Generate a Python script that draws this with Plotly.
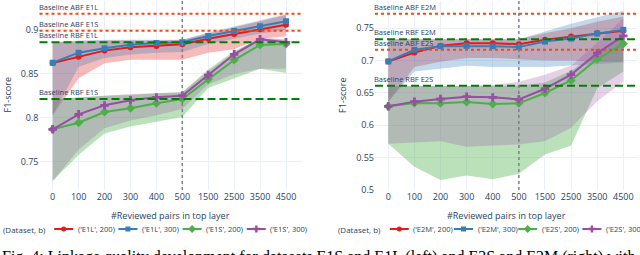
import plotly.graph_objects as go

W, H = 640, 255

reviewed = ["0", "100", "200", "300", "400", "500", "1500", "2500", "3500", "4500"]

# ---- left panel: E1L / E1S ----
e1l_200 = [0.8625, 0.8696, 0.8765, 0.8803, 0.8818, 0.8837, 0.8901, 0.8954, 0.9008, 0.9060]
e1l_300 = [0.8628, 0.8742, 0.8791, 0.8833, 0.8852, 0.8860, 0.8932, 0.8989, 0.9042, 0.9099]
e1s_200 = [0.7869, 0.7944, 0.8066, 0.8108, 0.8165, 0.8214, 0.8438, 0.8658, 0.8829, 0.8840]
e1s_300 = [0.7869, 0.8040, 0.8142, 0.8200, 0.8233, 0.8252, 0.8487, 0.8723, 0.8894, 0.8860]

e1l_200_lo = [0.803, 0.845, 0.862, 0.866, 0.866, 0.866, 0.874, 0.878, 0.890, 0.893]
e1l_200_hi = [0.886, 0.887, 0.888, 0.888, 0.888, 0.889, 0.896, 0.903, 0.910, 0.917]
e1l_300_lo = [0.803, 0.858, 0.868, 0.872, 0.874, 0.875, 0.884, 0.890, 0.896, 0.900]
e1l_300_hi = [0.886, 0.888, 0.889, 0.889, 0.889, 0.889, 0.897, 0.904, 0.911, 0.918]
e1s_200_lo = [0.728, 0.758, 0.782, 0.790, 0.7956, 0.801, 0.834, 0.845, 0.856, 0.851]
e1s_200_hi = [0.821, 0.823, 0.825, 0.826, 0.828, 0.829, 0.855, 0.876, 0.890, 0.889]
e1s_300_lo = [0.728, 0.764, 0.788, 0.797, 0.803, 0.810, 0.838, 0.850, 0.856, 0.856]
e1s_300_hi = [0.821, 0.823, 0.825, 0.827, 0.828, 0.829, 0.853, 0.874, 0.892, 0.889]

left_baselines = [("Baseline ABF E1L", 0.9186, "abf"), ("Baseline ABF E1S", 0.8992, "abf"),
                  ("Baseline RBF E1L", 0.8860, "rbf"), ("Baseline RBF E1S", 0.8214, "rbf")]

# ---- right panel: E2M / E2S ----
e2m_200 = [0.6985, 0.7124, 0.7227, 0.7268, 0.7268, 0.7253, 0.7320, 0.7370, 0.7420, 0.7460]
e2m_300 = [0.6985, 0.7165, 0.7222, 0.7227, 0.7222, 0.7207, 0.7293, 0.7340, 0.7417, 0.7474]
e2s_200 = [0.6290, 0.6342, 0.6337, 0.6358, 0.6327, 0.6337, 0.6497, 0.6692, 0.7022, 0.7258]
e2s_300 = [0.6290, 0.6363, 0.6404, 0.6440, 0.6429, 0.6398, 0.6563, 0.6780, 0.7114, 0.7381]

e2m_200_lo = [0.636, 0.690, 0.698, 0.704, 0.704, 0.702, 0.700, 0.700, 0.698, 0.698]
e2m_200_hi = [0.733, 0.733, 0.733, 0.733, 0.733, 0.733, 0.742, 0.750, 0.760, 0.768]
e2m_300_lo = [0.636, 0.683, 0.688, 0.692, 0.690, 0.690, 0.690, 0.693, 0.695, 0.697]
e2m_300_hi = [0.733, 0.733, 0.733, 0.733, 0.733, 0.733, 0.745, 0.757, 0.767, 0.777]
e2s_200_lo = [0.571, 0.5355, 0.5148, 0.522, 0.516, 0.5247, 0.5545, 0.5684, 0.657, 0.683]
e2s_200_hi = [0.660, 0.660, 0.660, 0.660, 0.660, 0.661, 0.666, 0.684, 0.712, 0.736]
e2s_300_lo = [0.571, 0.5725, 0.575, 0.5664, 0.5684, 0.570, 0.575, 0.5957, 0.637, 0.6676]
e2s_300_hi = [0.660, 0.660, 0.660, 0.661, 0.662, 0.667, 0.678, 0.692, 0.728, 0.765]

right_baselines = [("Baseline ABF E2M", 0.7725, "abf"), ("Baseline RBF E2M", 0.7330, "rbf"),
                   ("Baseline ABF E2S", 0.7165, "abf"), ("Baseline RBF E2S", 0.6610, "rbf")]

caption = "Fig. 4: Linkage quality development for datasets E1S and E1L (left) and E2S and E2M (right) with"

# ---- styles ----
COLORS = ["#e41a1c", "#377eb8", "#4daf4a", "#984ea3"]
BAND_ALPHA = [0.30, 0.30, 0.38, 0.26]
SYMBOLS = ["circle", "square", "diamond", "cross"]
MSIZE = [6, 6, 7, 7]
FONT = "Open Sans"
TXT = "#2a3f5f"


def rgba(hexc, a):
    h = hexc.lstrip("#")
    return "rgba(%d,%d,%d,%.2f)" % (int(h[0:2], 16), int(h[2:4], 16), int(h[4:6], 16), a)


panels = [
    dict(xa="x", ya="y", dom=(39.5, 302.0), c0=52.7, c9=286.0, yr=(0.7178, 0.933),
         series=[("('E1L', 200)", e1l_200, e1l_200_lo, e1l_200_hi),
                 ("('E1L', 300)", e1l_300, e1l_300_lo, e1l_300_hi),
                 ("('E1S', 200)", e1s_200, e1s_200_lo, e1s_200_hi),
                 ("('E1S', 300)", e1s_300, e1s_300_lo, e1s_300_hi)],
         baselines=left_baselines),
    dict(xa="x2", ya="y2", dom=(375.0, 638.0), c0=388.3, c9=623.3, yr=(0.4995, 0.7921),
         series=[("('E2M', 200)", e2m_200, e2m_200_lo, e2m_200_hi),
                 ("('E2M', 300)", e2m_300, e2m_300_lo, e2m_300_hi),
                 ("('E2S', 200)", e2s_200, e2s_200_lo, e2s_200_hi),
                 ("('E2S', 300)", e2s_300, e2s_300_lo, e2s_300_hi)],
         baselines=right_baselines),
]

PLOT_TOP, PLOT_BOT = 1.0, 190.0
fig = go.Figure()
shapes, annotations = [], []

for p in panels:
    # bands
    for k, (name, vals, lo, hi) in enumerate(p["series"]):
        fig.add_trace(go.Scatter(
            x=reviewed + reviewed[::-1], y=hi + lo[::-1], fill="toself",
            fillcolor=rgba(COLORS[k], BAND_ALPHA[k]), line=dict(width=0), mode="lines",
            hoverinfo="skip", showlegend=False, xaxis=p["xa"], yaxis=p["ya"]))
    # lines
    for k, (name, vals, lo, hi) in enumerate(p["series"]):
        fig.add_trace(go.Scatter(
            x=reviewed, y=vals, mode="lines+markers", name=name,
            line=dict(color=COLORS[k], width=2),
            marker=dict(symbol=SYMBOLS[k], size=MSIZE[k], color=COLORS[k]),
            showlegend=False, xaxis=p["xa"], yaxis=p["ya"]))
    # baselines
    for label, val, kind in p["baselines"]:
        if kind == "abf":
            ln = dict(color="orangered", width=2, dash="dot")
        else:
            ln = dict(color="green", width=2, dash="8px,4px")
        shapes.append(dict(type="line", xref=p["xa"] + " domain", yref=p["ya"],
                           x0=0, x1=1, y0=val, y1=val, line=ln, layer="above"))
        annotations.append(dict(text=label, xref=p["xa"] + " domain", yref=p["ya"],
                                x=0, y=val, xanchor="left", yanchor="bottom", xshift=-3,
                                showarrow=False, font=dict(family=FONT, size=7.5, color=TXT)))
    # vertical reference at 500
    i500 = reviewed.index("500")
    shapes.append(dict(type="line", xref=p["xa"], yref=p["ya"] + " domain",
                       x0=i500, x1=i500, y0=0, y1=1,
                       line=dict(color="gray", width=1.5, dash="dot"), layer="above"))
    # axis titles
    cx = (p["dom"][0] + p["dom"][1]) / 2
    annotations.append(dict(text="#Reviewed pairs in top layer", xref="paper", yref="paper",
                            x=cx / W, y=1 - 215 / H, xanchor="center", yanchor="middle",
                            showarrow=False, font=dict(family=FONT, size=9, color=TXT)))
    annotations.append(dict(text="F1-score", xref="paper", yref="paper",
                            x=(p["dom"][0] - 32.5) / W, y=1 - 95.5 / H, textangle=-90,
                            xanchor="center", yanchor="middle",
                            showarrow=False, font=dict(family=FONT, size=9, color=TXT)))
    # manual legend
    leg_y = 229.0
    annotations.append(dict(text="(Dataset, b)", xref="x3", yref="y3", x=p["c0"] - 5, y=leg_y,
                            xanchor="right", yanchor="middle", showarrow=False,
                            font=dict(family=FONT, size=8, color=TXT)))
    for k, (name, vals, lo, hi) in enumerate(p["series"]):
        c = p["c0"] + 11 + k * 64.2
        fig.add_trace(go.Scatter(x=[c - 9.5, c + 9.5], y=[leg_y, leg_y], mode="lines",
                                 line=dict(color=COLORS[k], width=2), showlegend=False,
                                 hoverinfo="skip", xaxis="x3", yaxis="y3"))
        fig.add_trace(go.Scatter(x=[c], y=[leg_y], mode="markers",
                                 marker=dict(symbol=SYMBOLS[k], size=MSIZE[k] - 1, color=COLORS[k]),
                                 showlegend=False, hoverinfo="skip", xaxis="x3", yaxis="y3"))
        annotations.append(dict(text=name, xref="x3", yref="y3", x=c + 12, y=leg_y,
                                xanchor="left", yanchor="middle", showarrow=False,
                                font=dict(family=FONT, size=7.5, color=TXT)))

annotations.append(dict(text=caption, xref="paper", yref="paper", x=0.0, y=1 - 246 / H,
                        xanchor="left", yanchor="top", showarrow=False,
                        font=dict(family="Liberation Serif", size=16, color="black")))


def xax(p):
    sp = (p["c9"] - p["c0"]) / 9.0
    lo = -(p["c0"] - p["dom"][0]) / sp
    hi = 9 + (p["dom"][1] - p["c9"]) / sp
    return dict(domain=[p["dom"][0] / W, p["dom"][1] / W], type="category",
                categoryorder="array", categoryarray=reviewed, range=[lo, hi],
                showgrid=True, gridcolor="#EBF0F8", zeroline=False, showline=False,
                automargin=False,
                tickfont=dict(family=FONT, size=9, color=TXT), ticks="", fixedrange=True)


def yax(p):
    return dict(domain=[1 - PLOT_BOT / H, 1 - PLOT_TOP / H], range=list(p["yr"]),
                tick0=0, dtick=0.05, showgrid=True, gridcolor="#EBF0F8", zeroline=False,
                automargin=False,
                showline=False, tickfont=dict(family=FONT, size=9, color=TXT), ticks="")


fig.update_layout(
    template="plotly_white", width=W, height=H, autosize=False,
    margin=dict(l=0, r=0, t=0, b=0, autoexpand=False),
    paper_bgcolor="white", plot_bgcolor="rgba(0,0,0,0)",
    showlegend=False,
    xaxis=xax(panels[0]), yaxis=yax(panels[0]),
    xaxis2=dict(xax(panels[1]), anchor="y2"), yaxis2=dict(yax(panels[1]), anchor="x2"),
    xaxis3=dict(domain=[0, 1], range=[0, W], visible=False, anchor="y3", automargin=False),
    yaxis3=dict(domain=[0, (H - PLOT_BOT) / H], range=[H, PLOT_BOT], visible=False,
                anchor="x3", automargin=False),
    shapes=shapes, annotations=annotations,
    font=dict(family=FONT, color=TXT),
)
fig.update_layout(xaxis=dict(anchor="y"), yaxis=dict(anchor="x"))

fig.write_html("out.html", config={"displayModeBar": False},
               post_script="document.body.style.margin='0px';document.body.style.overflow='hidden';")
